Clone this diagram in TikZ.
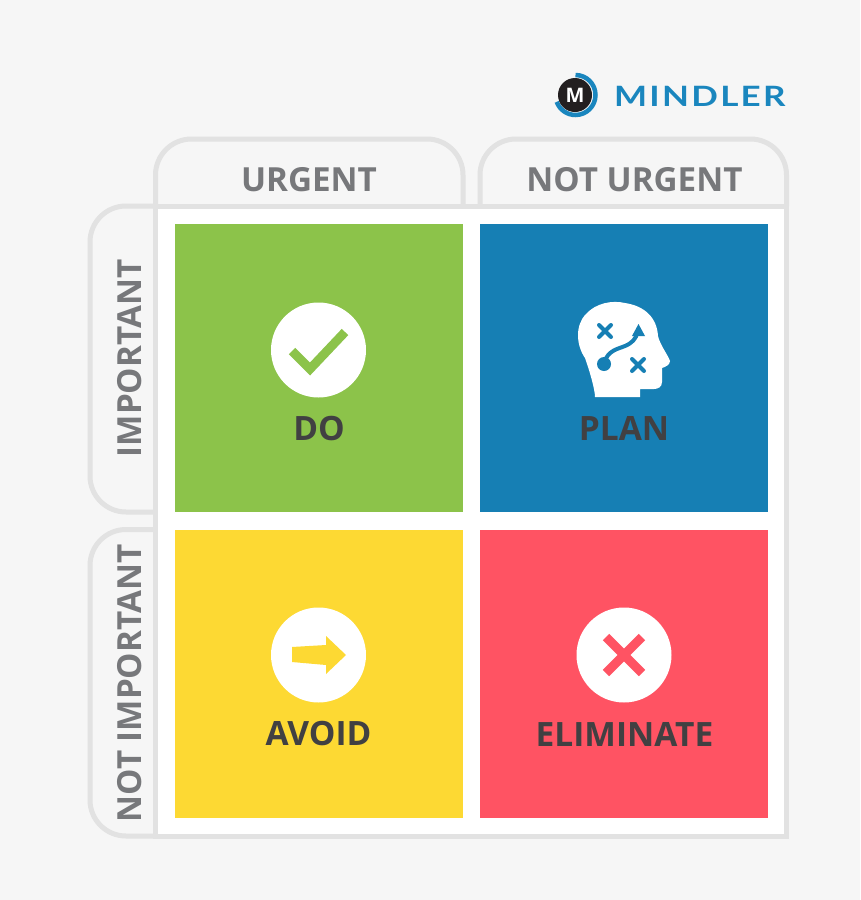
\documentclass[tikz,border=0pt]{standalone}
\usepackage{fontspec}
\setmainfont{Open Sans}
\newfontfamily\logofont[LetterSpace=8,FakeStretch=1.25]{Lato}
\usetikzlibrary{calc}
\definecolor{bgc}{HTML}{F6F6F6}
\definecolor{framec}{HTML}{E2E2E2}
\definecolor{headc}{HTML}{77787B}
\definecolor{darkc}{HTML}{414042}
\definecolor{greenc}{HTML}{8CC34A}
\definecolor{bluec}{HTML}{167FB4}
\definecolor{yellowc}{HTML}{FDD933}
\definecolor{redc}{HTML}{FF5363}
\definecolor{logoc}{HTML}{1A86BE}
\definecolor{logok}{HTML}{231F20}
\tikzset{
  x=1pt,y=-1pt,
  tab/.style={draw=framec,line width=5pt,rounded corners=36pt},
  quad/.style={minimum width=288pt,minimum height=288pt,inner sep=0pt,outer sep=0pt},
  disc/.style={circle,fill=white,minimum size=95pt,inner sep=0pt},
  heading/.style={text=headc,font=\fontsize{33.2}{33}\selectfont\bfseries,inner sep=0pt},
  title/.style={text=darkc,font=\fontsize{33.5}{33}\selectfont\bfseries,inner sep=0pt},
}
\begin{document}
\begin{tikzpicture}
\useasboundingbox (0,0) rectangle (860,900);
\fill[bgc] (0,0) rectangle (860,900);
% frame and tabs
\draw[tab] (155.5,206) -- (155.5,139) -- (463,139) -- (463,206);
\draw[tab] (480,206) -- (480,139) -- (786.5,139) -- (786.5,206);
\draw[tab] (155.5,206) -- (90,206) -- (90,512) -- (155.5,512);
\draw[tab] (155.5,529.5) -- (90,529.5) -- (90,836) -- (155.5,836);
\node[fill=white,draw=framec,line width=5pt,minimum width=631pt,minimum height=630pt,inner sep=0pt] (board) at (471,521) {};
% quadrants
\node[quad,fill=greenc] (q1) at (319,368) {};
\node[quad,fill=bluec] (q2) at (624,368) {};
\node[quad,fill=yellowc] (q3) at (319,674) {};
\node[quad,fill=redc] (q4) at (624,674) {};
% headings
\node[heading] (urgent) at (309,179.5) {URGENT};
\node[heading] (noturgent) at (634.5,179.5) {NOT URGENT};
\node[heading,rotate=90] (important) at (130,358.5) {IMPORTANT};
\node[heading,rotate=90] (notimportant) at (130,683.5) {NOT IMPORTANT};
% DO
\node[disc] (c1) at (318.5,350) {};
\draw[greenc,line width=9pt] (292,351) -- (310,369) -- (345,332);
\node[title] (do) at (319,429) {DO};
% PLAN
\fill[white] (595,397) .. controls (595,390) and (590,372) .. (585,358)
  .. controls (576,345) and (575,325) .. (586,314)
  .. controls (596,303) and (612,300) .. (625,303)
  .. controls (645,306) and (657,318) .. (658,336)
  .. controls (660,345) and (668,355) .. (670,361)
  .. controls (670,365) and (665,367) .. (662,368)
  -- (662,382) .. controls (662,387) and (658,389) .. (654,389)
  -- (640,389) -- (640,397) -- cycle;
\begin{scope}[bluec,line width=4pt,line cap=round]
\draw (599,325) -- (611,337) (611,325) -- (599,337);
\draw (632,359) -- (644,371) (644,359) -- (632,371);
\draw[line cap=butt] (604,363) .. controls (608,350) and (618,349) .. (625,346) .. controls (632,343) and (636,339) .. (637.5,332);
\end{scope}
\fill[bluec] (604,364) circle (7pt);
\fill[bluec] (638.5,324) -- (645,336) -- (632,336) -- cycle;
\node[title] (plan) at (624,428.5) {PLAN};
% AVOID
\node[disc] (c3) at (318.5,655) {};
\fill[yellowc] (292,647) -- (326,645) -- (326,636) -- (346,655) -- (326,674) -- (326,665) -- (292,662) -- cycle;
\node[title] (avoid) at (318.5,734) {AVOID};
% ELIMINATE
\node[disc] (c4) at (624,655) {};
\draw[redc,line width=9pt] (606,637) -- (642,673) (642,637) -- (606,673);
\node[title] (elim) at (624.5,734) {ELIMINATE};
% logo
\draw[logoc,line width=4.5pt] (575.5,75) arc[start angle=-90,end angle=160,radius=20];
\fill[logok] (575,95) circle (17pt);
\node[text=white,font=\fontsize{20}{20}\selectfont\bfseries,inner sep=0pt] (m) at (575,95.5) {M};
\node[text=logoc,font=\fontsize{28}{28}\selectfont\logofont\bfseries,anchor=west,inner sep=0pt] (mindler) at (614,96.5) {MINDLER};
\end{tikzpicture}
\end{document}
